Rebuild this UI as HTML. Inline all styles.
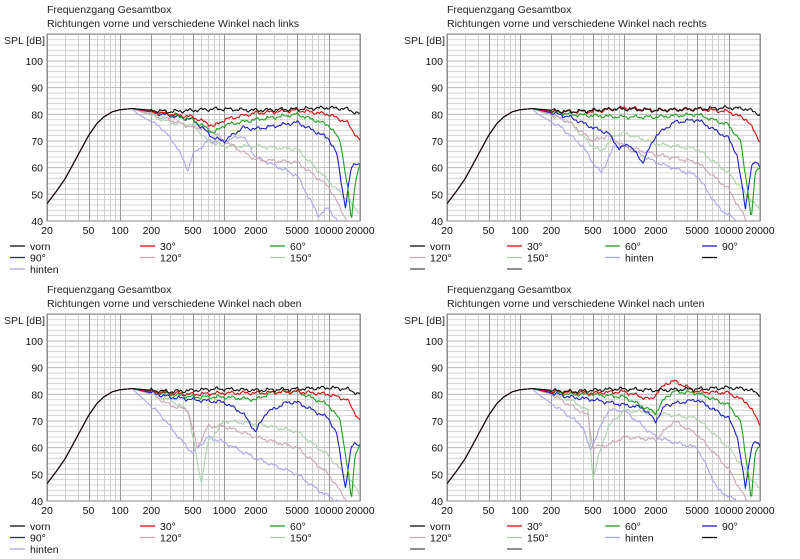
<!DOCTYPE html>
<html><head><meta charset="utf-8"><style>
html,body{margin:0;padding:0;background:#fff;}
svg{display:block;font-family:"Liberation Sans",sans-serif;}
</style></head><body>
<svg id="s" width="800" height="559" viewBox="0 0 800 559" xmlns="http://www.w3.org/2000/svg"></svg>
<script>
var S=document.getElementById('s'),out='';
var C={vorn:'#111',a30:'#d01010',a60:'#20a020',a90:'#2020c0',a120:'#c8a8b8',a150:'#b0d0b0',hint:'#a8a8e8'};
var rise=[[20,46.5],[25,51.5],[30,56],[40,65],[50,72],[60,76.5],[70,79],[85,81],[100,81.7],[130,82.2]];
function panel(ox,oy,title2,data,legend,cols){
 var x0=ox+47,x1=ox+360,yT=oy+34,yB=oy+221;
 function X(f){return x0+(Math.log10(f)-Math.log10(20))/3*(x1-x0);}
 var pd=(221-61)/60;
 function Y(d){return yB-(d-40)*pd;}
 out+='<text x="'+(ox+47)+'" y="'+(oy+13)+'" font-size="10.5" fill="#222">Frequenzgang Gesamtbox</text>';
 out+='<text x="'+(ox+47)+'" y="'+(oy+27)+'" font-size="10.5" fill="#222">'+title2+'</text>';
 out+='<text x="'+(ox+4)+'" y="'+(oy+44)+'" font-size="10.5" fill="#222">SPL [dB]</text>';
 for(var d=40;d<=110;d+=2){var y=Y(d);if(y<yT)break;out+='<line x1="'+x0+'" x2="'+x1+'" y1="'+y+'" y2="'+y+'" stroke="'+(d%10==0?'#b8b8b8':'#d4d4d4')+'" stroke-width="1"/>';}
 var decs=[10,100,1000,10000];
 decs.forEach(function(dc){for(var m=1;m<10;m++){var f=dc*m;if(f<20||f>20000)continue;var major=(m==1||m==2||m==5);var x=Math.round(X(f))+0.5;
  out+='<line x1="'+x+'" x2="'+x+'" y1="'+yT+'" y2="'+yB+'" stroke="'+(major?'#999':'#cfcfcf')+'" stroke-width="1"/>';}});
 out+='<rect x="'+x0+'" y="'+yT+'" width="'+(x1-x0)+'" height="'+(yB-yT)+'" fill="none" stroke="#888"/>';
 [40,50,60,70,80,90,100].forEach(function(d){out+='<text x="'+(x0-4)+'" y="'+(Y(d)+4)+'" font-size="10.5" text-anchor="end" fill="#111">'+d+'</text>';});
 [20,50,100,200,500,1000,2000,5000,10000,20000].forEach(function(f){out+='<text x="'+X(f)+'" y="'+(yB+13)+'" font-size="10.5" text-anchor="middle" fill="#111">'+f+'</text>';});
 out+='<svg x="'+x0+'" y="'+yT+'" width="'+(x1-x0)+'" height="'+(yB-yT)+'" overflow="hidden"><g transform="translate('+(-x0)+','+(-yT)+')">';
 var order=['hint','a150','a120','a90','a60','a30','vorn'];
 order.forEach(function(k,ki){if(!data[k])return;var pts=rise.concat(data[k]);var p='';var seed=ki*13+ox*0.01+oy*0.02;
  for(var i=0;i<=300;i++){var lf=Math.log10(20)+3*i/300,f=Math.pow(10,lf);var j=0;while(j<pts.length-2&&pts[j+1][0]<f)j++;
   var a=pts[j],b=pts[j+1];var t=(Math.log10(f)-Math.log10(a[0]))/(Math.log10(b[0])-Math.log10(a[0]));t=Math.max(0,Math.min(1,t));
   var v=a[1]+(b[1]-a[1])*t;if(f>200)v+=0.45*Math.sin(i*0.5+seed)+0.3*Math.sin(i*1.3+seed*2)+0.15*Math.sin(i*2.2+seed);
   p+=(i?'L':'M')+X(f).toFixed(1)+','+Y(v).toFixed(1);}
  out+='<path d="'+p+'" fill="none" stroke="'+C[k]+'" stroke-width="1.1" stroke-linejoin="round"/>';});
 out+='</g></svg>';
 legend.forEach(function(e,i){var c=i%cols,r=Math.floor(i/cols);var lx=ox+(cols==3?[10,140,270][c]:[10,107,205,302][c]),ly=oy+246+r*11.5;
  out+='<line x1="'+lx+'" x2="'+(lx+15)+'" y1="'+ly+'" y2="'+ly+'" stroke="'+e[1]+'" stroke-width="1.3"/>';
  if(e[0])out+='<text x="'+(lx+20)+'" y="'+(ly+4)+'" font-size="10.5" fill="#111">'+e[0]+'</text>';});
}
var L3=[['vorn',C.vorn],['30°',C.a30],['60°',C.a60],['90°',C.a90],['120°',C.a120],['150°',C.a150],['hinten',C.hint]];
var L4=[['vorn',C.vorn],['30°',C.a30],['60°',C.a60],['90°',C.a90],['120°',C.a120],['150°',C.a150],['hinten',C.hint],['','#111'],['','#555'],['','#555']];
var vorn=[[200,81.5],[300,81],[500,81.5],[800,82],[1000,82],[2000,81.5],[5000,82],[10000,82.5],[15000,82],[20000,80]];
var d1={vorn:vorn,
a30:[[200,81],[500,79],[800,75.5],[1000,78],[2000,80.5],[5000,81.5],[10000,80],[15000,77],[20000,70]],
a60:[[300,80],[500,78],[800,73],[1000,76],[2000,78],[5000,80],[10000,76],[13000,70],[15500,50],[16500,40],[18000,55],[20000,61]],
a90:[[300,79.5],[500,78],[800,71],[1000,70],[1500,75],[2000,74.5],[5000,77],[10000,71],[12000,65],[14500,45],[16500,60],[18000,62],[20000,61]],
a120:[[200,80],[300,78],[500,75],[700,75],[1000,70],[2000,63],[5000,62],[10000,53],[15000,40],[20000,36]],
a150:[[300,77],[500,76],[700,70],[1000,68],[2000,68],[5000,67],[10000,55],[20000,43]],
hint:[[150,80],[250,75],[350,68],[450,59],[500,65],[700,70],[1000,70],[1500,72],[2000,64],[5000,57],[8000,42],[10000,45],[13000,38],[20000,30]]};
var d2={vorn:vorn,
a30:[[200,81],[500,81],[1000,82.5],[2000,81.5],[5000,82],[10000,81],[15000,78],[20000,70]],
a60:[[300,80],[500,79.5],[1000,79],[2000,79],[5000,80],[10000,76],[13000,70],[15500,50],[16500,40],[18000,58],[20000,61]],
a90:[[300,79],[500,75],[700,73],[900,67],[1100,69],[1500,62],[2000,72],[3000,77],[5000,78],[10000,71],[12000,65],[14500,45],[16500,60],[18000,62],[20000,61]],
a120:[[200,80],[300,77],[500,70],[700,72],[1000,68],[2000,65],[5000,62],[10000,52],[15000,40],[20000,36]],
a150:[[300,77],[500,68],[600,66],[800,72],[1000,73],[2000,69],[5000,67],[10000,58],[20000,44]],
hint:[[150,80],[250,75],[400,68],[500,62],[600,58],[800,68],[1000,68],[2000,62],[5000,57],[8000,45],[12000,40],[20000,32]]};
var d3={vorn:vorn,
a30:[[200,81],[500,80],[1000,80.5],[2000,80.5],[5000,81],[10000,80],[15000,78],[20000,70]],
a60:[[300,80],[500,79],[1000,79],[2000,78],[3000,81],[5000,81],[10000,76],[13000,70],[15500,50],[16500,40],[18000,58],[20000,61]],
a90:[[300,79],[500,78],[1000,77],[1500,73],[2000,66],[2500,73],[4000,77],[5000,77],[10000,71],[12000,65],[14500,45],[16500,60],[18000,62],[20000,61]],
a120:[[200,80],[300,76],[450,74],[550,60],[700,68],[1000,68],[2000,64],[5000,60],[10000,50],[15000,40],[20000,36]],
a150:[[300,78],[450,74],[550,55],[600,47],[700,62],[1000,70],[2000,69],[5000,66],[10000,57],[20000,43]],
hint:[[150,80],[250,72],[400,62],[500,58],[700,64],[1000,62],[2000,56],[5000,50],[8000,44],[12000,40],[20000,30]]};
var d4={vorn:vorn,
a30:[[200,81],[500,80.5],[1000,81],[1800,78],[2500,84],[3000,85],[5000,81],[10000,80.5],[15000,77],[20000,69]],
a60:[[300,80],[500,80],[1000,79],[2000,73],[2500,79],[3000,81],[5000,80.5],[10000,76],[13000,70],[15500,50],[16500,40],[18000,58],[20000,61]],
a90:[[300,79],[500,78],[1000,76],[1500,75],[2000,70],[2500,76],[5000,78],[10000,71],[12000,65],[14500,45],[16500,60],[18000,62],[20000,61]],
a120:[[200,80],[300,76],[450,72],[500,60],[700,61],[1000,64],[2000,63],[3000,70],[5000,65],[10000,52],[15000,40],[20000,36]],
a150:[[300,78],[450,74],[500,48],[550,55],[700,68],[1000,74],[2000,73],[5000,71],[10000,60],[20000,44]],
hint:[[150,80],[250,74],[400,68],[470,59],[550,65],[700,74],[1000,74],[2000,64],[3000,62],[5000,60],[8000,44],[12000,40],[20000,30]]};
panel(0,0,'Richtungen vorne und verschiedene Winkel nach links',d1,L3,3);
panel(400,0,'Richtungen vorne und verschiedene Winkel nach rechts',d2,L4,4);
panel(0,280,'Richtungen vorne und verschiedene Winkel nach oben',d3,L3,3);
panel(400,280,'Richtungen vorne und verschiedene Winkel nach unten',d4,L4,4);
S.innerHTML=out;
</script>
</body></html>
